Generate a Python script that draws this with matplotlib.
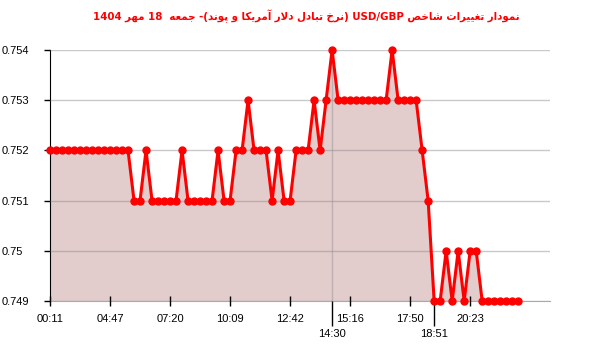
import matplotlib
matplotlib.use('Agg')
import matplotlib.pyplot as plt

# data (one point every sample, category x axis)
values = [0.752, 0.752, 0.752, 0.752, 0.752, 0.752, 0.752, 0.752, 0.752, 0.752,
          0.752, 0.752, 0.752, 0.752, 0.751, 0.751, 0.752, 0.751, 0.751, 0.751,
          0.751, 0.751, 0.752, 0.751, 0.751, 0.751, 0.751, 0.751, 0.752, 0.751,
          0.751, 0.752, 0.752, 0.753, 0.752, 0.752, 0.752, 0.751, 0.752, 0.751,
          0.751, 0.752, 0.752, 0.752, 0.753, 0.752, 0.753, 0.754, 0.753, 0.753,
          0.753, 0.753, 0.753, 0.753, 0.753, 0.753, 0.753, 0.754, 0.753, 0.753,
          0.753, 0.753, 0.752, 0.751, 0.749, 0.749, 0.750, 0.749, 0.750, 0.749,
          0.750, 0.750, 0.749, 0.749, 0.749, 0.749, 0.749, 0.749, 0.749]
tick_pos = [0, 10, 20, 30, 40, 50, 60, 70]
tick_labels = ['00:11', '04:47', '07:20', '10:09', '12:42', '15:16', '17:50', '20:23']
mark_pos = [47, 64]
mark_labels = ['14:30', '18:51']
y_ticks = [0.749, 0.750, 0.751, 0.752, 0.753, 0.754]
y_labels = ['0.749', '0.75', '0.751', '0.752', '0.753', '0.754']
title = 'نمودار تغییرات شاخص USD/GBP (نرخ تبادل دلار آمریکا و پوند)- جمعه  18 مهر 1404'
title = title.replace('\u064a', '\u06cc').replace('\u0643', '\u06a9')

# matplotlib has no arabic shaping, so do it by hand
FORMS = {
    '\u0627': ('\ufe8d', '\ufe8e', None, None),
    '\u0622': ('\ufe81', '\ufe82', None, None),
    '\u062f': ('\ufea9', '\ufeaa', None, None),
    '\u0631': ('\ufead', '\ufeae', None, None),
    '\u0648': ('\ufeed', '\ufeee', None, None),
    '\u0628': ('\ufe8f', '\ufe90', '\ufe91', '\ufe92'),
    '\u067e': ('\ufb56', '\ufb57', '\ufb58', '\ufb59'),
    '\u062a': ('\ufe95', '\ufe96', '\ufe97', '\ufe98'),
    '\u062c': ('\ufe9d', '\ufe9e', '\ufe9f', '\ufea0'),
    '\u062e': ('\ufea5', '\ufea6', '\ufea7', '\ufea8'),
    '\u0634': ('\ufeb5', '\ufeb6', '\ufeb7', '\ufeb8'),
    '\u0635': ('\ufeb9', '\ufeba', '\ufebb', '\ufebc'),
    '\u0639': ('\ufec9', '\ufeca', '\ufecb', '\ufecc'),
    '\u063a': ('\ufecd', '\ufece', '\ufecf', '\ufed0'),
    '\u0644': ('\ufedd', '\ufede', '\ufedf', '\ufee0'),
    '\u0645': ('\ufee1', '\ufee2', '\ufee3', '\ufee4'),
    '\u0646': ('\ufee5', '\ufee6', '\ufee7', '\ufee8'),
    '\u0647': ('\ufee9', '\ufeea', '\ufeeb', '\ufeec'),
    '\u06a9': ('\ufb8e', '\ufb8f', '\ufb90', '\ufb91'),
    '\u06cc': ('\ufbfc', '\ufbfd', '\ufbfe', '\ufbff'),
}
LAM_ALEF = {'\u0627': ('\ufefb', '\ufefc'), '\u0622': ('\ufef5', '\ufef6')}


def shape(text):
    out = []
    i = 0
    n = len(text)
    while i < n:
        c = text[i]
        if c not in FORMS:
            out.append(c)
            i += 1
            continue
        prev = i > 0 and text[i - 1] in FORMS and FORMS[text[i - 1]][2] is not None
        if c == '\u0644' and i + 1 < n and text[i + 1] in LAM_ALEF:
            lig = LAM_ALEF[text[i + 1]]
            out.append(lig[1] if prev else lig[0])
            i += 2
            continue
        f = FORMS[c]
        nxt = f[2] is not None and i + 1 < n and text[i + 1] in FORMS
        if prev and nxt:
            out.append(f[3])
        elif prev:
            out.append(f[1])
        elif nxt:
            out.append(f[2])
        else:
            out.append(f[0])
        i += 1
    return ''.join(out)


def rtl(text):
    mirror = {'(': ')', ')': '('}
    toks = []
    for t in shape(text).split(' '):
        if any('\ufb50' <= ch <= '\ufeff' for ch in t):
            t = ''.join(mirror.get(ch, ch) for ch in reversed(t))
        toks.append(t)
    return ' '.join(reversed(toks))


x = list(range(len(values)))

fig = plt.figure(figsize=(6, 3.52), dpi=100)
ax = fig.add_axes([50 / 600, 1 - 301 / 352, 500 / 600, 251 / 352])

ax.fill_between(x, values, 0.749, color='#e3cccc', lw=0, zorder=1)
ax.plot(x, values, color='#ff0000', lw=2.2, marker='o', ms=5,
        clip_on=False, zorder=4)

ax.set_xlim(0, 83.3)
ax.set_ylim(0.749, 0.754)

# grid
ax.set_yticks(y_ticks)
ax.set_yticklabels(y_labels)
ax.yaxis.grid(True, color='#888888', alpha=0.45, lw=1, zorder=2)
ax.set_axisbelow(False)
ax.axvline(47, color='#888888', alpha=0.4, lw=1, zorder=2)

ax.set_xticks(tick_pos)
ax.set_xticklabels(tick_labels)
ax.set_xticks(mark_pos, minor=True)
ax.set_xticklabels(mark_labels, minor=True)

for lab in ax.get_xticklabels(which='both') + ax.get_yticklabels():
    lab.set_fontfamily('Liberation Sans')
    lab.set_fontsize(8)

ax.tick_params(axis='x', which='major', direction='inout', length=7, width=1,
               color='black', pad=6)
ax.tick_params(axis='x', which='minor', direction='out', length=18, width=1,
               color='black', pad=2.5)
minor_ticks = ax.xaxis.get_minor_ticks()
minor_ticks[0].tick1line.set_color('#cccccc')
ax.tick_params(axis='y', direction='out', length=4, width=1, color='black', pad=31)
for lab in ax.get_yticklabels():
    lab.set_horizontalalignment('left')

for side in ['top', 'right']:
    ax.spines[side].set_visible(False)
ax.spines['left'].set_color('black')
ax.spines['bottom'].set_color('#aaaaaa')

fig.text(306 / 600, 1 - 16 / 352, rtl(title), ha='center', va='center',
         color='#ff0000', fontsize=8.2, fontweight='bold', fontstretch='condensed',
         family=['DejaVu Sans'])

fig.savefig('out.png', dpi=100)
